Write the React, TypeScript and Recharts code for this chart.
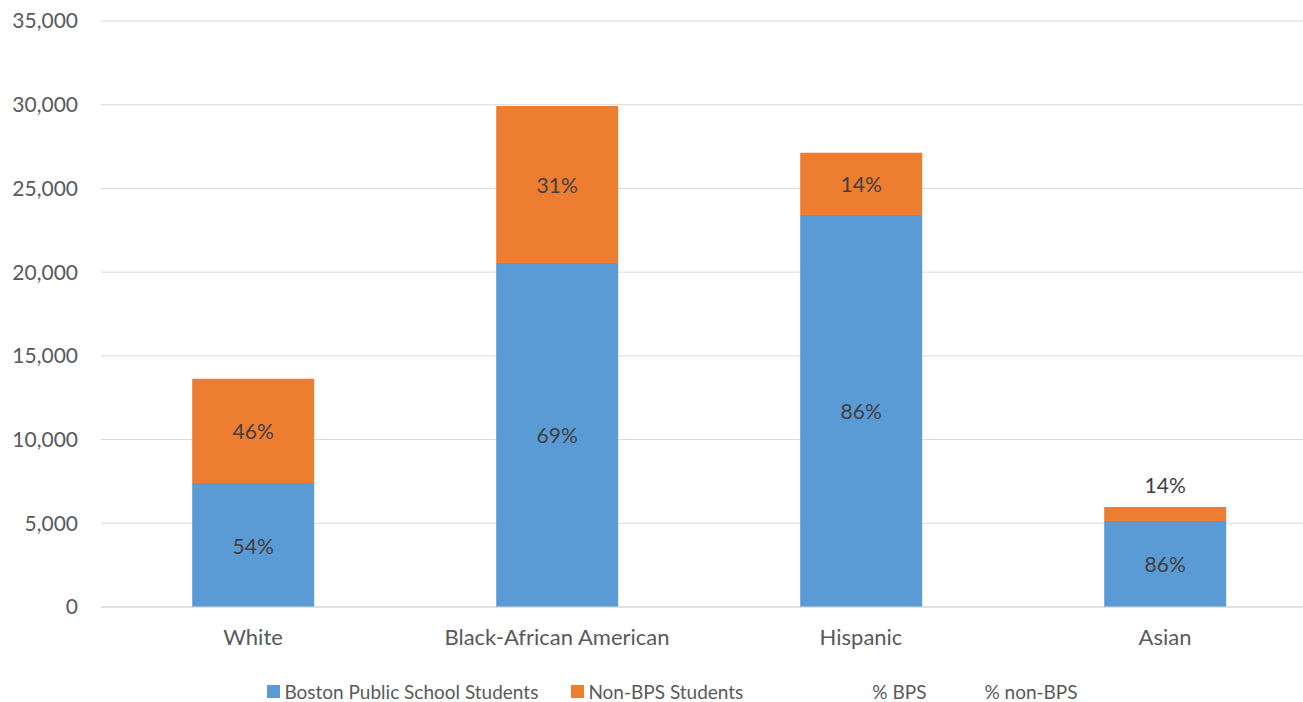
import { Bar, BarChart, CartesianGrid, LabelList, Legend, XAxis, YAxis } from "recharts";

const groups = ["White", "Black-African American", "Hispanic", "Asian"];
const bpsStudents = [7400, 20550, 23420, 5140];
const nonBpsStudents = [6230, 9380, 3710, 840];
const bpsPct = [54, 69, 86, 86];
const nonBpsPct = [46, 31, 14, 14];
const yTicks = [0, 5000, 10000, 15000, 20000, 25000, 30000, 35000];

const legendItems = [
  { name: "Boston Public School Students", color: "#5B9BD5", gap: 0 },
  { name: "Non-BPS Students", color: "#ED7D31", gap: 33 },
  { name: "% BPS", color: null, gap: 129 },
  { name: "% non-BPS", color: null, gap: 58 },
];

const rows = groups.map((group, i) => ({
  group,
  bps: bpsStudents[i],
  nonBps: nonBpsStudents[i],
  bpsLabel: `${bpsPct[i]}%`,
  nonBpsLabel: `${nonBpsPct[i]}%`,
}));

const FONT = "Lato, 'Open Sans', sans-serif";
const TEXT = "#595959";

// centred inside the segment, or sitting above it when the segment is too thin
function SegmentLabel(props: any) {
  const { x, y, width, height, value } = props;
  const thin = height < 30;
  return (
    <text
      x={x + width / 2}
      y={thin ? y - 22 : y + height / 2}
      textAnchor="middle"
      dominantBaseline="central"
      fill="#404040"
      fontSize={21}
      fontFamily={FONT}
    >
      {value}
    </text>
  );
}

function ChartLegend() {
  return (
    <div
      style={{
        height: 50,
        boxSizing: "border-box",
        paddingTop: 28,
        paddingLeft: 28,
        display: "flex",
        justifyContent: "center",
        alignItems: "center",
        fontFamily: FONT,
        fontSize: 19,
        color: TEXT,
      }}
    >
      {legendItems.map((item) => (
        <div
          key={item.name}
          style={{ display: "flex", alignItems: "center", marginLeft: item.gap }}
        >
          {item.color && (
            <span
              style={{
                width: 13,
                height: 13,
                background: item.color,
                marginRight: 4,
                display: "inline-block",
              }}
            />
          )}
          <span>{item.name}</span>
        </div>
      ))}
    </div>
  );
}

export default function App() {
  return (
    <div
      style={{
        position: "fixed",
        left: 0,
        top: 0,
        width: 1303,
        height: 702,
        overflow: "hidden",
        background: "#fff",
      }}
    >
      <BarChart
        width={1320}
        height={702}
        data={rows}
        margin={{ top: 21, right: 3, left: 0, bottom: 0 }}
        barCategoryGap="30%"
      >
        <CartesianGrid vertical={false} stroke="#D9D9D9" strokeWidth={1} />
        <XAxis
          dataKey="group"
          height={45}
          axisLine={{ stroke: "#D9D9D9" }}
          tickLine={false}
          tickMargin={16}
          tick={{ fill: TEXT, fontSize: 22, fontFamily: FONT }}
        />
        <YAxis
          width={101}
          domain={[0, 35000]}
          ticks={yTicks}
          axisLine={false}
          tickLine={false}
          tickMargin={17}
          tickFormatter={(v: number) => v.toLocaleString("en-US")}
          tick={{ fill: TEXT, fontSize: 21, fontFamily: FONT }}
        />
        <Legend verticalAlign="bottom" content={<ChartLegend />} />
        <Bar dataKey="bps" stackId="s" fill="#5B9BD5" isAnimationActive={false}>
          <LabelList dataKey="bpsLabel" content={SegmentLabel} />
        </Bar>
        <Bar dataKey="nonBps" stackId="s" fill="#ED7D31" isAnimationActive={false}>
          <LabelList dataKey="nonBpsLabel" content={SegmentLabel} />
        </Bar>
      </BarChart>
    </div>
  );
}
